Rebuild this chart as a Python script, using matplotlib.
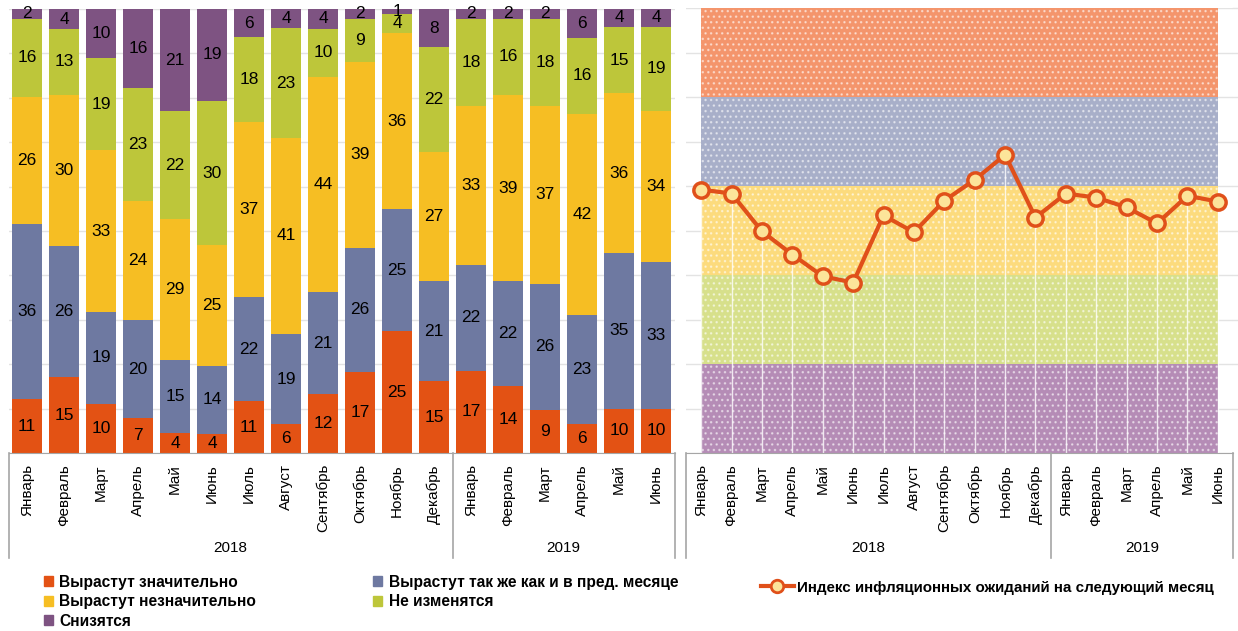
import numpy as np
import matplotlib.pyplot as plt
from matplotlib.transforms import blended_transform_factory
from matplotlib.patches import Patch
from matplotlib.lines import Line2D

# Данные
meses = ["Январь", "Февраль", "Март", "Апрель", "Май", "Июнь", "Июль", "Август",
         "Сентябрь", "Октябрь", "Ноябрь", "Декабрь",
         "Январь", "Февраль", "Март", "Апрель", "Май", "Июнь"]
anos = ["2018", "2019"]
meses_por_ano = [12, 6]

znachitelno = [11, 15, 10, 7, 4, 4, 11, 6, 12, 17, 25, 15, 17, 14, 9, 6, 10, 10]
tak_zhe = [36, 26, 19, 20, 15, 14, 22, 19, 21, 26, 25, 21, 22, 22, 26, 23, 35, 33]
neznachitelno = [26, 30, 33, 24, 29, 25, 37, 41, 44, 39, 36, 27, 33, 39, 37, 42, 36, 34]
ne_izmenyatsya = [16, 13, 19, 23, 22, 30, 18, 23, 10, 9, 4, 22, 18, 16, 18, 16, 15, 19]
snizyatsya = [2, 4, 10, 16, 21, 19, 6, 4, 4, 2, 1, 8, 2, 2, 2, 6, 4, 4]

indeks = [59.2, 58.3, 49.8, 44.6, 39.7, 38.3, 53.4, 49.6, 56.7, 61.4, 67.0, 52.9,
          58.3, 57.4, 55.2, 51.6, 57.8, 56.5]

series = [znachitelno, tak_zhe, neznachitelno, ne_izmenyatsya, snizyatsya]
nomes = ["Вырастут значительно", "Вырастут так же как и в пред. месяце",
         "Вырастут незначительно", "Не изменятся", "Снизятся"]
cores = ["#E35214", "#6E79A1", "#F6BE23", "#BDC63A", "#7E5382"]
cores_faixas = ["#B58CB6", "#D7E08B", "#FCDB7D", "#A8AFC9", "#F4956C"]

plt.rcParams['font.family'] = ['Liberation Sans', 'DejaVu Sans']

fig = plt.figure(figsize=(12.38, 6.31), dpi=100)
W, H = 1238, 631

def eixo(x0, x1, y0, y1):
    return fig.add_axes([x0 / W, 1 - y1 / H, (x1 - x0) / W, (y1 - y0) / H])

x = np.arange(len(meses))

# ---- Gráfico de barras (100%) ----
ax1 = eixo(8.5, 674.5, 9, 453)
dados = np.array(series, dtype=float)
total = dados.sum(axis=0)
base = np.zeros(len(meses))
for vals, cor in zip(series, cores):
    pct = np.array(vals) / total * 100
    ax1.bar(x, pct, bottom=base, width=0.81, color=cor, zorder=2)
    for i, v in enumerate(vals):
        ax1.text(x[i], base[i] + pct[i] / 2, str(v), ha='center', va='center',
                 fontsize=12.5, zorder=3)
    base += pct

# ---- Gráfico de linha ----
ax2 = eixo(686, 1233, 8, 453)
for k, cor in enumerate(cores_faixas):
    ax2.fill_between([0, 17], k * 20, (k + 1) * 20, facecolor=cor,
                     edgecolor=(1, 1, 1, 0.5), hatch='...', linewidth=0, zorder=1)
ax2.vlines(x, 0, indeks, color='white', lw=1, alpha=0.8, zorder=2)
ax2.plot(x, indeks, color='#E0501A', lw=3, marker='o', markersize=11,
         markerfacecolor='#FCE49A', markeredgecolor='#E0501A', markeredgewidth=2.5,
         zorder=4)

for ax in (ax1, ax2):
    ax.set_xlim(-0.5, 17.5)
    ax.set_ylim(0, 100)
    ax.set_yticks(np.arange(0, 101, 10))
    ax.set_yticklabels([])
    ax.tick_params(axis='y', length=0)
    ax.grid(axis='y', color='#E3E3E3', lw=1, zorder=0)
    ax.set_axisbelow(True)
    for lado in ('top', 'right', 'left'):
        ax.spines[lado].set_visible(False)
    ax.spines['bottom'].set_color('#A6A6A6')
    ax.set_xticks(x)
    ax.set_xticklabels(meses, rotation=90, fontsize=11, va='top')
    ax.tick_params(axis='x', length=0, pad=8)

    # tabela de anos
    tr = blended_transform_factory(ax.transData, ax.transAxes)
    inicio = -0.5
    fronteiras = [inicio]
    for n, ano in zip(meses_por_ano, anos):
        ax.text(inicio + n / 2, -0.214, ano, transform=tr, ha='center',
                va='center', fontsize=11)
        inicio += n
        fronteiras.append(inicio)
    for b in fronteiras:
        ax.plot([b, b], [0, -0.237], transform=tr, color='#A6A6A6', lw=1.2,
                clip_on=False)

# estender grade do gráfico de linha até a borda
for yv in np.arange(10, 101, 10):
    fig.add_artist(Line2D([1233 / W, 1238 / W], [1 - (453 - yv * 4.45) / H] * 2,
                          color='#E3E3E3', lw=1))

# ---- Legendas ----
ordem = [0, 2, 4, 1, 3]
handles = [Patch(color=cores[i]) for i in ordem]
leg = fig.legend(handles, [nomes[i] for i in ordem], loc='upper left',
                 bbox_to_anchor=(33 / W, 1 - 564 / H),
                 ncol=2, frameon=False, handlelength=0.6, handleheight=0.6,
                 handletextpad=0.4, columnspacing=7.5, labelspacing=0.28,
                 borderpad=0.2, prop={'weight': 'bold', 'size': 11.2})

h_linha = Line2D([], [], color='#E0501A', lw=3, marker='o', markersize=9,
                 markerfacecolor='#FCE49A', markeredgecolor='#E0501A',
                 markeredgewidth=2)
fig.legend([h_linha], ["Индекс инфляционных ожиданий на следующий месяц"],
           loc='upper left', bbox_to_anchor=(750 / W, 1 - 570 / H), frameon=False,
           handlelength=2.2, handletextpad=0.2, borderpad=0.2,
           prop={'weight': 'bold', 'size': 10.9})

fig.savefig("out.png", dpi=100)
